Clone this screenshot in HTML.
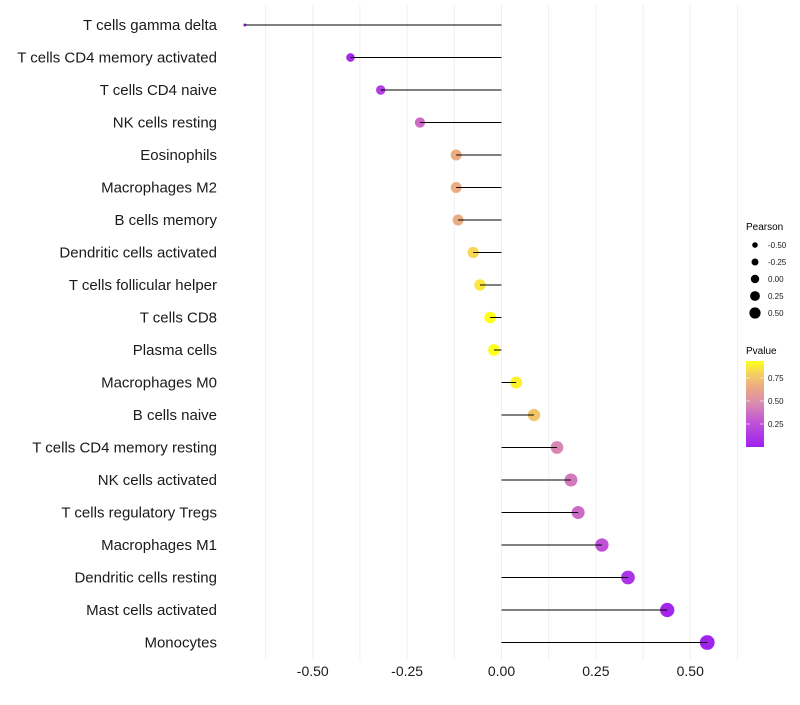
<!DOCTYPE html>
<html><head><meta charset="utf-8">
<style>
body{margin:0;background:#fff;font-family:"Liberation Sans",sans-serif;}
svg text{font-family:"Liberation Sans",sans-serif;}
</style></head>
<body>
<svg id="chart" width="800" height="700" xmlns="http://www.w3.org/2000/svg">
<defs>
<linearGradient id="pg" x1="0" y1="1" x2="0" y2="0">
<stop offset="0" stop-color="#A020F0"/>
<stop offset="0.3" stop-color="#C256D6"/>
<stop offset="0.5" stop-color="#D98AB0"/>
<stop offset="0.7" stop-color="#EBAA82"/>
<stop offset="0.85" stop-color="#F5D060"/>
<stop offset="1" stop-color="#FFFF1A"/>
</linearGradient>
</defs>
<g id="grid"></g><g id="marks"></g><g id="labels"></g>
<g id="legend">
<text x="746" y="230" font-size="10">Pearson</text>
<g id="sizeleg"></g>
<text x="746" y="354" font-size="10">Pvalue</text>
<rect x="746" y="361" width="18" height="86" fill="url(#pg)"/>
<g id="colleg"></g>
</g>
</svg>
<script>
const categories=["T cells gamma delta","T cells CD4 memory activated","T cells CD4 naive","NK cells resting","Eosinophils","Macrophages M2","B cells memory","Dendritic cells activated","T cells follicular helper","T cells CD8","Plasma cells","Macrophages M0","B cells naive","T cells CD4 memory resting","NK cells activated","T cells regulatory  Tregs ","Macrophages M1","Dendritic cells resting","Mast cells activated","Monocytes"];
const pearson=[-0.68,-0.40,-0.32,-0.216,-0.12,-0.12,-0.115,-0.075,-0.057,-0.03,-0.02,0.039,0.086,0.147,0.184,0.203,0.266,0.335,0.439,0.545];
const pvalue=[0.02,0.05,0.15,0.35,0.65,0.65,0.65,0.8,0.85,0.92,0.92,0.88,0.74,0.45,0.4,0.35,0.25,0.1,0.03,0.01];
const xTicks=[-0.5,-0.25,0,0.25,0.5];
const xTickLabels=["-0.50","-0.25","0.00","0.25","0.50"];
const sizeLegVals=[-0.5,-0.25,0,0.25,0.5];
const sizeLegLabels=["-0.50","-0.25","0.00","0.25","0.50"];
const colLegVals=[0.25,0.5,0.75];
const colLegLabels=["0.25","0.50","0.75"];

const NS="http://www.w3.org/2000/svg";
const x=v=>501.5+v*377.5;
const y=i=>25+i*32.5;
const pmin=Math.min(...pearson),pmax=Math.max(...pearson);
const rad=v=>1.5+5.9*Math.sqrt(Math.max(0,(v-pmin)/(pmax-pmin)));
const stops=[[0,[160,32,240]],[0.3,[194,86,214]],[0.5,[217,138,176]],[0.7,[235,170,130]],[0.85,[245,208,96]],[1,[255,255,26]]];
function col(p){const t=Math.min(1,Math.max(0,p/0.92));for(let k=1;k<stops.length;k++){if(t<=stops[k][0]){const a=stops[k-1],b=stops[k];const f=(t-a[0])/(b[0]-a[0]);const c=a[1].map((q,j)=>Math.round(q+(b[1][j]-q)*f));return `rgb(${c})`;}}return "rgb(255,255,26)";}
function mk(tag,attrs,parent){const e=document.createElementNS(NS,tag);for(const k in attrs)e.setAttribute(k,attrs[k]);parent.appendChild(e);return e;}
const grid=document.getElementById('grid'),marks=document.getElementById('marks'),labels=document.getElementById('labels');
for(let v=-0.625;v<=0.626;v+=0.125){const l=mk('line',{x1:x(v),x2:x(v),y1:5,y2:660,stroke:'#f0f0f0','stroke-width':1},grid);

}
categories.forEach((c,i)=>{
const t=mk('text',{x:217,y:y(i)+5,'font-size':15,'text-anchor':'end',fill:'#1a1a1a'},labels);t.textContent=c;


const d=mk('circle',{cx:x(pearson[i]),cy:y(i),r:rad(pearson[i]),fill:col(pvalue[i])},marks);


const s=mk('line',{x1:x(0),x2:x(pearson[i]),y1:y(i),y2:y(i),stroke:'#000','stroke-width':1},marks);


});
xTicks.forEach((v,i)=>{const t=mk('text',{x:x(v),y:676,'font-size':14,'text-anchor':'middle',fill:'#1a1a1a'},labels);t.textContent=xTickLabels[i];

});
const sl=document.getElementById('sizeleg');
sizeLegVals.forEach((v,i)=>{const cy=245+i*17;const r=4.2+v*2.8;
const c=mk('circle',{cx:755,cy:cy,r:r,fill:'#000'},sl);


const t=mk('text',{x:768,y:cy+3,'font-size':8,fill:'#1a1a1a'},sl);t.textContent=sizeLegLabels[i];

});
const cl=document.getElementById('colleg');
colLegVals.forEach((v,i)=>{const cy=447-v/0.25*23;
mk('line',{x1:746,x2:750,y1:cy,y2:cy,stroke:'#fff','stroke-opacity':0.6},cl);
mk('line',{x1:760,x2:764,y1:cy,y2:cy,stroke:'#fff','stroke-opacity':0.6},cl);
const t=mk('text',{x:768,y:cy+3,'font-size':8,fill:'#1a1a1a'},cl);t.textContent=colLegLabels[i];

});
</script>
</body></html>
